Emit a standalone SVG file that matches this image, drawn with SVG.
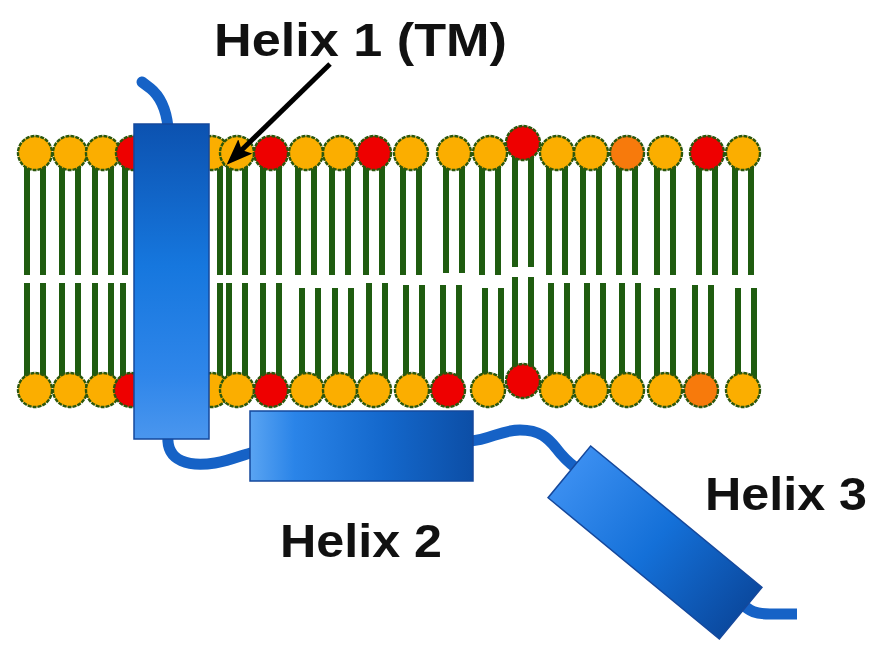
<svg xmlns="http://www.w3.org/2000/svg" width="889" height="655" viewBox="0 0 889 655">
<style>
.t{fill:#1f5c10}
.h{stroke:#2c570c;stroke-width:2.4;stroke-dasharray:4 1}
.o{fill:#fbae00}
.r{fill:#ee0000}
.d{fill:#f77a0c}
.hx{stroke:#15489c;stroke-width:1.5}
.loop{fill:none;stroke:#1662c6;stroke-width:11}
.lbl{font-family:"Liberation Sans",Arial,sans-serif;font-weight:bold;font-size:47px;fill:#111}
</style>
<defs>
<linearGradient id="g1" x1="0" y1="0" x2="0" y2="1">
<stop offset="0" stop-color="#0c52b0"/>
<stop offset="0.45" stop-color="#1677de"/>
<stop offset="0.8" stop-color="#2f86ea"/>
<stop offset="1" stop-color="#4a96ee"/>
</linearGradient>
<linearGradient id="g2" x1="0" y1="0" x2="1" y2="0">
<stop offset="0" stop-color="#5aa4f2"/>
<stop offset="0.2" stop-color="#2a84e8"/>
<stop offset="0.6" stop-color="#1468cc"/>
<stop offset="1" stop-color="#0c4ea6"/>
</linearGradient>
<linearGradient id="g3" x1="0" y1="0" x2="1" y2="0">
<stop offset="0" stop-color="#3a8ef0"/>
<stop offset="0.5" stop-color="#1470d8"/>
<stop offset="1" stop-color="#0b4aa0"/>
</linearGradient>
<marker id="arr" markerUnits="userSpaceOnUse" markerWidth="28" markerHeight="22" refX="15" refY="10" orient="auto">
<path d="M0,0 L26,10 L0,20 L5,10 z" fill="#000"/>
</marker>
</defs>
<rect width="889" height="655" fill="#fff"/>

<g id="membrane">
<g id="top-leaflet">
<rect class="t" x="24" y="153" width="6" height="122"/><rect class="t" x="40" y="153" width="6" height="122"/>
<rect class="t" x="59" y="153" width="6" height="122"/><rect class="t" x="75" y="153" width="6" height="122"/>
<rect class="t" x="92" y="153" width="6" height="122"/><rect class="t" x="108" y="153" width="6" height="122"/>
<rect class="t" x="122" y="153" width="6" height="122"/><rect class="t" x="138" y="153" width="6" height="122"/>
<rect class="t" x="201" y="153" width="6" height="122"/><rect class="t" x="217" y="153" width="6" height="122"/>
<rect class="t" x="226" y="153" width="6" height="122"/><rect class="t" x="242" y="153" width="6" height="122"/>
<rect class="t" x="260" y="153" width="6" height="122"/><rect class="t" x="276" y="153" width="6" height="122"/>
<rect class="t" x="295" y="153" width="6" height="122"/><rect class="t" x="311" y="153" width="6" height="122"/>
<rect class="t" x="329" y="153" width="6" height="122"/><rect class="t" x="345" y="153" width="6" height="122"/>
<rect class="t" x="363" y="153" width="6" height="122"/><rect class="t" x="379" y="153" width="6" height="122"/>
<rect class="t" x="400" y="153" width="6" height="122"/><rect class="t" x="416" y="153" width="6" height="122"/>
<rect class="t" x="443" y="153" width="6" height="120"/><rect class="t" x="459" y="153" width="6" height="120"/>
<rect class="t" x="479" y="153" width="6" height="122"/><rect class="t" x="495" y="153" width="6" height="122"/>
<rect class="t" x="512" y="143" width="6" height="124"/><rect class="t" x="528" y="143" width="6" height="124"/>
<rect class="t" x="546" y="153" width="6" height="122"/><rect class="t" x="562" y="153" width="6" height="122"/>
<rect class="t" x="580" y="153" width="6" height="122"/><rect class="t" x="596" y="153" width="6" height="122"/>
<rect class="t" x="616" y="153" width="6" height="122"/><rect class="t" x="632" y="153" width="6" height="122"/>
<rect class="t" x="654" y="153" width="6" height="122"/><rect class="t" x="670" y="153" width="6" height="122"/>
<rect class="t" x="696" y="153" width="6" height="122"/><rect class="t" x="712" y="153" width="6" height="122"/>
<rect class="t" x="732" y="153" width="6" height="122"/><rect class="t" x="748" y="153" width="6" height="122"/>
<circle class="h o" cx="35" cy="153" r="17"/>
<circle class="h o" cx="70" cy="153" r="17"/>
<circle class="h o" cx="103" cy="153" r="17"/>
<circle class="h r" cx="133" cy="153" r="17"/>
<circle class="h o" cx="212" cy="153" r="17"/>
<circle class="h o" cx="237" cy="153" r="17"/>
<circle class="h r" cx="271" cy="153" r="17"/>
<circle class="h o" cx="306" cy="153" r="17"/>
<circle class="h o" cx="340" cy="153" r="17"/>
<circle class="h r" cx="374" cy="153" r="17"/>
<circle class="h o" cx="411" cy="153" r="17"/>
<circle class="h o" cx="454" cy="153" r="17"/>
<circle class="h o" cx="490" cy="153" r="17"/>
<circle class="h r" cx="523" cy="143" r="17"/>
<circle class="h o" cx="557" cy="153" r="17"/>
<circle class="h o" cx="591" cy="153" r="17"/>
<circle class="h d" cx="627" cy="153" r="17"/>
<circle class="h o" cx="665" cy="153" r="17"/>
<circle class="h r" cx="707" cy="153" r="17"/>
<circle class="h o" cx="743" cy="153" r="17"/>
</g>
<g id="bottom-leaflet">
<rect class="t" x="24" y="283" width="6" height="107"/><rect class="t" x="40" y="283" width="6" height="107"/>
<rect class="t" x="59" y="283" width="6" height="107"/><rect class="t" x="75" y="283" width="6" height="107"/>
<rect class="t" x="92" y="283" width="6" height="107"/><rect class="t" x="108" y="283" width="6" height="107"/>
<rect class="t" x="120" y="283" width="6" height="107"/><rect class="t" x="136" y="283" width="6" height="107"/>
<rect class="t" x="201" y="283" width="6" height="107"/><rect class="t" x="217" y="283" width="6" height="107"/>
<rect class="t" x="226" y="283" width="6" height="107"/><rect class="t" x="242" y="283" width="6" height="107"/>
<rect class="t" x="260" y="283" width="6" height="107"/><rect class="t" x="276" y="283" width="6" height="107"/>
<rect class="t" x="299" y="288" width="6" height="102"/><rect class="t" x="315" y="288" width="6" height="102"/>
<rect class="t" x="332" y="288" width="6" height="102"/><rect class="t" x="348" y="288" width="6" height="102"/>
<rect class="t" x="366" y="283" width="6" height="107"/><rect class="t" x="382" y="283" width="6" height="107"/>
<rect class="t" x="403" y="285" width="6" height="105"/><rect class="t" x="419" y="285" width="6" height="105"/>
<rect class="t" x="440" y="285" width="6" height="105"/><rect class="t" x="456" y="285" width="6" height="105"/>
<rect class="t" x="482" y="288" width="6" height="102"/><rect class="t" x="498" y="288" width="6" height="102"/>
<rect class="t" x="512" y="277" width="6" height="104"/><rect class="t" x="528" y="277" width="6" height="104"/>
<rect class="t" x="548" y="283" width="6" height="107"/><rect class="t" x="564" y="283" width="6" height="107"/>
<rect class="t" x="584" y="283" width="6" height="107"/><rect class="t" x="600" y="283" width="6" height="107"/>
<rect class="t" x="619" y="283" width="6" height="107"/><rect class="t" x="635" y="283" width="6" height="107"/>
<rect class="t" x="654" y="288" width="6" height="102"/><rect class="t" x="670" y="288" width="6" height="102"/>
<rect class="t" x="692" y="285" width="6" height="105"/><rect class="t" x="708" y="285" width="6" height="105"/>
<rect class="t" x="735" y="288" width="6" height="102"/><rect class="t" x="751" y="288" width="6" height="102"/>
<circle class="h o" cx="35" cy="390" r="17"/>
<circle class="h o" cx="70" cy="390" r="17"/>
<circle class="h o" cx="103" cy="390" r="17"/>
<circle class="h r" cx="131" cy="390" r="17"/>
<circle class="h o" cx="212" cy="390" r="17"/>
<circle class="h o" cx="237" cy="390" r="17"/>
<circle class="h r" cx="271" cy="390" r="17"/>
<circle class="h o" cx="307" cy="390" r="17"/>
<circle class="h o" cx="340" cy="390" r="17"/>
<circle class="h o" cx="374" cy="390" r="17"/>
<circle class="h o" cx="412" cy="390" r="17"/>
<circle class="h r" cx="448" cy="390" r="17"/>
<circle class="h o" cx="488" cy="390" r="17"/>
<circle class="h r" cx="523" cy="381" r="17"/>
<circle class="h o" cx="557" cy="390" r="17"/>
<circle class="h o" cx="591" cy="390" r="17"/>
<circle class="h o" cx="627" cy="390" r="17"/>
<circle class="h o" cx="665" cy="390" r="17"/>
<circle class="h d" cx="701" cy="390" r="17"/>
<circle class="h o" cx="743" cy="390" r="17"/>
</g>
</g>

<g id="connectors">
<path class="loop" d="M168,127 C166,108 160,96 150,88 L142,82" stroke-linecap="round"/>
<path class="loop" d="M168,436 C166,462 190,467 215,463 C232,460 242,455 254,452"/>
<path class="loop" d="M470,441 C490,440 500,430 520,430 C540,430 548,438 556,448 C562,456 568,462 576,468"/>
<path class="loop" d="M740,602 C750,612 756,614 770,614 L797,614"/>
<path d="M330,64 L234.5,157" stroke="#000" stroke-width="5" fill="none" marker-end="url(#arr)"/>
</g>

<g id="helix1">
<rect class="hx" x="134" y="124" width="75" height="315" fill="url(#g1)"/>
</g>
<g id="helix2">
<rect class="hx" x="250" y="411" width="223" height="70" fill="url(#g2)"/>
</g>
<g id="helix3">
<rect class="hx" x="-111" y="-33.5" width="222" height="67" fill="url(#g3)" transform="translate(655,542.5) rotate(39.5)"/>
</g>

<g id="labels">
<text class="lbl" x="214" y="56" textLength="293" lengthAdjust="spacingAndGlyphs">Helix 1 (TM)</text>
<text class="lbl" x="280" y="557" textLength="162" lengthAdjust="spacingAndGlyphs">Helix 2</text>
<text class="lbl" x="705" y="510" textLength="162" lengthAdjust="spacingAndGlyphs">Helix 3</text>
</g>
</svg>
